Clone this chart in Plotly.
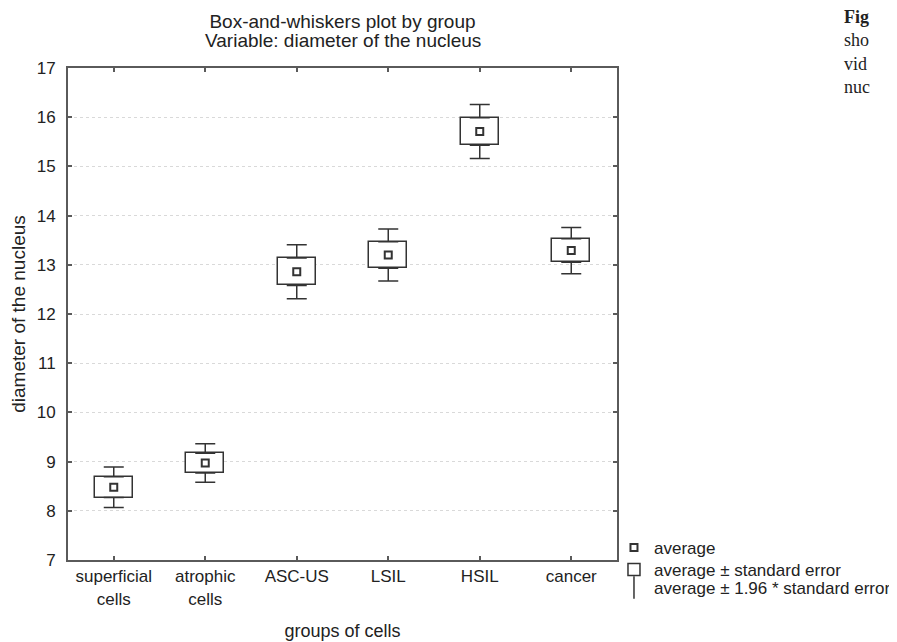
import plotly.graph_objects as go

# ---- data ----
groups = ["superficial<br>cells", "atrophic<br>cells", "ASC-US", "LSIL", "HSIL", "cancer"]
means = [8.48, 8.97, 12.86, 13.20, 15.71, 13.29]
std_err = [0.21, 0.20, 0.28, 0.27, 0.28, 0.24]
z_factor = 1.96
y_ticks = [7, 8, 9, 10, 11, 12, 13, 14, 15, 16, 17]

# ---- styles ----
INK = "#333333"
AXIS = "#5a5a5a"
FONT = "Liberation Sans, Arial, sans-serif"
TXT = "#222222"

# The page body has an 8px default margin; the figure is sized so that it
# fills the 897x642 window exactly.
FIG_W, FIG_H = 889, 634
PLOT_H = 492

box_base = [m - s for m, s in zip(means, std_err)]
box_height = [2 * s for s in std_err]
extra = [(z_factor - 1) * s for s in std_err]
zeros = [0] * len(groups)

fig = go.Figure()

# average marker
fig.add_trace(go.Scatter(
    x=groups, y=means, mode="markers", name="average", legend="legend",
    marker=dict(symbol="square-open", size=7, color=INK, line=dict(width=2, color=INK)),
))

# mean +/- standard error box
fig.add_trace(go.Bar(
    x=groups, y=box_height, base=box_base, name="average ± standard error",
    legend="legend2",
    width=0.41, marker=dict(color="white", line=dict(color=INK, width=1.5)),
))

# whiskers: mean +/- 1.96 * SE, drawn outward from the box edges
fig.add_trace(go.Scatter(
    x=groups + groups,
    y=[m + s for m, s in zip(means, std_err)] + box_base,
    mode="markers", showlegend=False, hoverinfo="skip",
    marker=dict(size=1, color="rgba(0,0,0,0)"),
    error_y=dict(type="data", symmetric=False,
                 array=extra + zeros, arrayminus=zeros + extra,
                 color=INK, thickness=1.5, width=10),
))

# legend entry for whiskers
fig.add_trace(go.Scatter(
    x=[None], y=[None], mode="markers", name="average ± 1.96 * standard error",
    legend="legend3",
    marker=dict(symbol="line-ns-open", size=18, color=INK, line=dict(width=1.5, color=INK)),
))

leg_common = dict(x=0.9945, xanchor="left", yanchor="middle",
                  font=dict(size=17, family=FONT, color=TXT),
                  bgcolor="rgba(0,0,0,0)", itemwidth=30)


def py(win_y):
    """window pixel row -> paper fraction (plot area spans rows 68..560)"""
    return (PLOT_H - (win_y - 68)) / PLOT_H


fig.update_layout(
    width=FIG_W, height=FIG_H,
    margin=dict(l=60, r=280, t=60, b=82, autoexpand=False),
    paper_bgcolor="white", plot_bgcolor="white",
    font=dict(family=FONT, size=17, color=TXT),
    title=dict(text="Box-and-whiskers plot by group",
               x=0.5, xref="paper", xanchor="center",
               y=1 - (21 - 8) / FIG_H, yref="container", yanchor="middle",
               font=dict(size=19, family=FONT, color=TXT)),
    showlegend=True,
    legend=dict(y=py(548), **leg_common),
    legend2=dict(y=py(570), **leg_common),
    legend3=dict(y=py(588), **leg_common),
    bargap=0,
)

# second title line
fig.add_annotation(
    text="Variable: diameter of the nucleus",
    xref="paper", yref="paper", x=0.5, y=py(41),
    xanchor="center", yanchor="middle", showarrow=False,
    font=dict(size=19, family=FONT, color=TXT),
)

fig.update_xaxes(
    type="category", categoryorder="array", categoryarray=groups,
    range=[-0.5, len(groups) - 0.5], automargin=False,
    showline=True, linecolor=AXIS, linewidth=2, mirror="ticks",
    ticks="inside", ticklen=4, tickcolor=AXIS, tickwidth=1.5,
    showgrid=False, zeroline=False,
    tickfont=dict(size=17),
    title=dict(text="groups of cells", font=dict(size=18), standoff=17),
)

fig.update_yaxes(
    range=[7, 17], tickvals=y_ticks, automargin=False,
    showline=True, linecolor=AXIS, linewidth=2, mirror="ticks",
    ticks="inside", ticklen=4, tickcolor=AXIS, tickwidth=1.5,
    showgrid=True, gridcolor="#d9d9d9", gridwidth=1, griddash="dot",
    zeroline=False, ticklabelstandoff=7,
    tickfont=dict(size=17),
    title=dict(text="diameter of the nucleus", font=dict(size=19), standoff=15),
)

# cropped caption text at the right edge of the source page
fig.add_annotation(
    text="<b>Fig</b><br>sho<br>vid<br>nuc",
    xref="paper", yref="paper", x=(842 - 68) / 549, y=py(5),
    xanchor="left", yanchor="top", align="left", showarrow=False,
    font=dict(family="Liberation Serif, serif", size=18, color=TXT),
)

fig.write_html("out.html")
